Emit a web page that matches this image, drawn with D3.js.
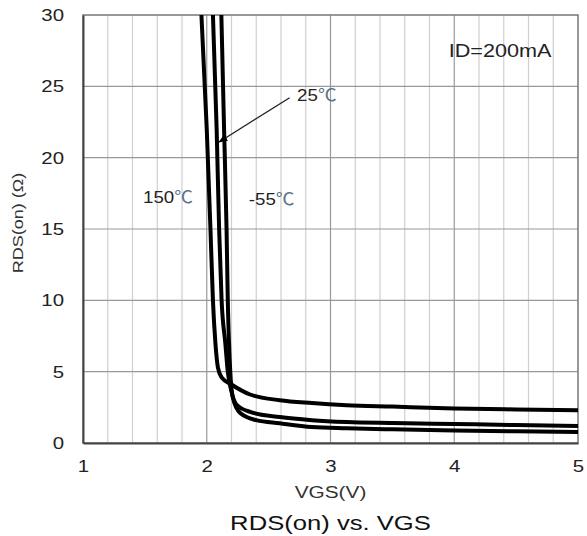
<!DOCTYPE html>
<html>
<head>
<meta charset="utf-8">
<script src="https://cdn.jsdelivr.net/npm/d3@7"></script>
<style>
  body { margin: 0; background: #fff; }
  text { font-family: "Liberation Sans", Arial, sans-serif; }
</style>
</head>
<body>
<svg id="chart" width="587" height="536"></svg>
<script>
// curve data: VGS (V) and RDS(on) (ohm)
var vgs150 = [1.957, 2.0, 2.03, 2.05, 2.07, 2.09, 2.12, 2.2, 2.35, 2.59, 2.85, 3.13, 3.5, 4.0, 4.5, 5.0];
var rds150 = [30, 22, 15, 10, 7, 5.3, 4.6, 4.1, 3.4, 3.0, 2.8, 2.65, 2.55, 2.42, 2.35, 2.3];

var vgs25 = [2.05, 2.08, 2.10, 2.12, 2.15, 2.17, 2.2, 2.24, 2.35, 2.59, 2.85, 3.13, 3.5, 4.0, 4.5, 5.0];
var rds25 = [30, 22, 15, 10, 7, 5, 3.6, 2.7, 2.18, 1.82, 1.6, 1.47, 1.4, 1.33, 1.26, 1.2];

var vgsM55 = [2.118, 2.14, 2.16, 2.17, 2.18, 2.19, 2.21, 2.27, 2.4, 2.59, 2.85, 3.13, 3.5, 4.0, 4.5, 5.0];
var rdsM55 = [30, 22, 15, 10, 7, 5, 3.2, 2.1, 1.6, 1.38, 1.12, 1.03, 0.96, 0.88, 0.82, 0.77];

var xTicks = [1, 2, 3, 4, 5];
var yTicks = [0, 5, 10, 15, 20, 25, 30];

var margin = {top: 15, right: 9, bottom: 93, left: 83};
var width = 587 - margin.left - margin.right,
    height = 536 - margin.top - margin.bottom;

var svg = d3.select("#chart");
var g = svg.append("g").attr("transform", "translate(" + margin.left + "," + margin.top + ")");

var x = d3.scaleLinear().domain([1, 5]).range([0, width]);
var y = d3.scaleLinear().domain([0, 30]).range([height, 0]);

// the fonts in the picture are wider than Arial, so stretch every text a bit
function widen(sel, k) {
  sel.each(function() {
    var len = this.getComputedTextLength();
    d3.select(this).attr("textLength", len * k).attr("lengthAdjust", "spacingAndGlyphs");
  });
}

// minor vertical grid every 0.2 V
var minor = d3.range(1.2, 5, 0.2).filter(function(v) { return Math.abs(v - Math.round(v)) > 0.01; });
g.selectAll(".minor").data(minor).enter().append("line")
  .attr("x1", function(d) { return x(d); }).attr("x2", function(d) { return x(d); })
  .attr("y1", 0).attr("y2", height)
  .attr("stroke", "#cfcfcf").attr("stroke-width", 1.2);

g.selectAll(".major").data(xTicks.slice(1, -1)).enter().append("line")
  .attr("x1", function(d) { return x(d); }).attr("x2", function(d) { return x(d); })
  .attr("y1", 0).attr("y2", height)
  .attr("stroke", "#999").attr("stroke-width", 1.2);

g.selectAll(".hgrid").data(yTicks.slice(1, -1)).enter().append("line")
  .attr("x1", 0).attr("x2", width)
  .attr("y1", function(d) { return y(d); }).attr("y2", function(d) { return y(d); })
  .attr("stroke", "#999").attr("stroke-width", 1.2);

// frame
g.append("rect").attr("width", width).attr("height", height)
  .attr("fill", "none").attr("stroke", "#777").attr("stroke-width", 1.5);

// axes
var xAxis = g.append("g").attr("transform", "translate(0," + height + ")")
  .call(d3.axisBottom(x).tickValues(xTicks).tickSize(0).tickPadding(17).tickFormat(d3.format("d")));
var yAxis = g.append("g")
  .call(d3.axisLeft(y).tickValues(yTicks).tickSize(0).tickPadding(19).tickFormat(d3.format("d")));
[xAxis, yAxis].forEach(function(a) {
  a.select(".domain").attr("stroke", "#444").attr("stroke-width", 2);
  a.selectAll("text").attr("font-size", 17).attr("fill", "#222")
    .attr("font-family", "Liberation Sans, Arial, sans-serif")
    .call(widen, 1.2);
});

// curves
var clip = svg.append("clipPath").attr("id", "clip")
  .append("rect").attr("width", width).attr("height", height);

var line = d3.line()
  .x(function(d) { return x(d[0]); })
  .y(function(d) { return y(d[1]); })
  .curve(d3.curveMonotoneX);

var series = [d3.zip(vgs150, rds150), d3.zip(vgs25, rds25), d3.zip(vgsM55, rdsM55)];
g.append("g").attr("clip-path", "url(#clip)")
  .selectAll("path").data(series).enter().append("path")
  .attr("d", line)
  .attr("fill", "none").attr("stroke", "#000").attr("stroke-width", 4);

// labels
function degLabel(txt, vx, vy) {
  var t = g.append("text").attr("x", x(vx)).attr("y", y(vy))
    .attr("font-size", 17).attr("fill", "#222");
  t.append("tspan").text(txt);
  t.append("tspan").text("℃").attr("fill", "#60708a")
    .attr("font-family", "Noto Sans CJK SC").attr("font-size", 17);
  t.call(widen, 1.1);
}
degLabel("150", 1.485, 16.82);
degLabel("-55", 2.34, 16.68);
degLabel("25", 2.73, 23.97);

// arrow to the 25 curve
svg.append("defs").append("marker").attr("id", "arrow")
  .attr("viewBox", "0 0 10 10").attr("refX", 9).attr("refY", 5)
  .attr("markerWidth", 7).attr("markerHeight", 7).attr("orient", "auto")
  .append("path").attr("d", "M0,1 L10,5 L0,9 z").attr("fill", "#000");
g.append("line")
  .attr("x1", x(2.67)).attr("y1", y(24.2))
  .attr("x2", x(2.1)).attr("y2", y(21.1))
  .attr("stroke", "#222").attr("stroke-width", 1.3)
  .attr("marker-end", "url(#arrow)");

g.append("text").attr("x", x(4.37)).attr("y", y(27.06))
  .attr("text-anchor", "middle").attr("font-size", 18).attr("fill", "#222")
  .text("ID=200mA").call(widen, 1.2);

// axis titles
svg.append("text").attr("x", margin.left + width / 2).attr("y", 498)
  .attr("text-anchor", "middle").attr("font-size", 16).attr("fill", "#333")
  .text("VGS(V)").call(widen, 1.3);
svg.append("text").attr("x", margin.left + width / 2).attr("y", 530)
  .attr("text-anchor", "middle").attr("font-size", 21).attr("fill", "#111")
  .text("RDS(on) vs. VGS").call(widen, 1.22);
svg.append("text").attr("transform", "translate(23,223) rotate(-90)")
  .attr("text-anchor", "middle").attr("font-size", 15).attr("fill", "#333")
  .text("RDS(on) (Ω)").call(widen, 1.2);
</script>
</body>
</html>
